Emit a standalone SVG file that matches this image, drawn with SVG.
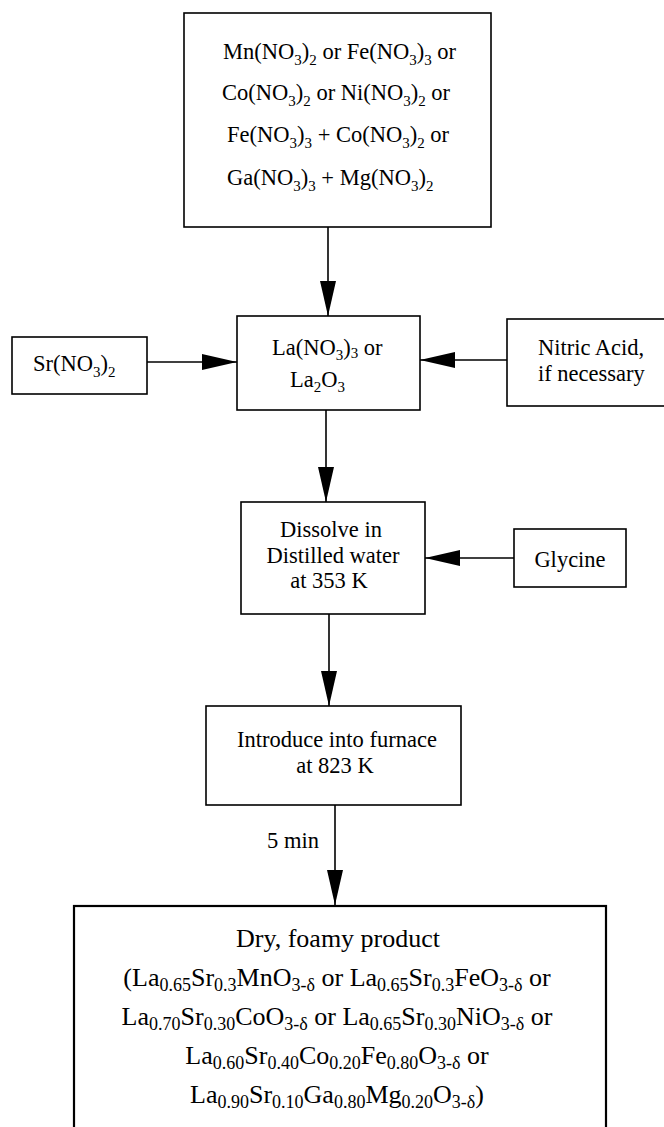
<svg xmlns="http://www.w3.org/2000/svg" width="664" height="1127" viewBox="0 0 664 1127">
<style>
  .box { fill: #fff; stroke: #000; stroke-width: 1.6; }
  .thick { stroke-width: 2.2; }
  .t { font-family: "Liberation Serif", "Times New Roman", serif; font-size: 22.5px; fill: #000; }
  .tb { font-family: "Liberation Serif", "Times New Roman", serif; font-size: 26px; fill: #000; }
  .s { font-size: 15px; }
  .sb { font-size: 18px; }
  .edge { stroke: #000; stroke-width: 1.6; fill: none; marker-end: url(#ah); }
</style>
<defs>
  <marker id="ah" markerUnits="userSpaceOnUse" markerWidth="36" markerHeight="17" refX="35" refY="8" orient="auto">
    <path d="M0,0 L35,8 L0,16 z" fill="#000"/>
  </marker>
</defs>
<rect width="664" height="1127" fill="#fff"/>

<g id="connectors">
  <line class="edge" x1="328" y1="227" x2="328" y2="316"/>
  <line class="edge" x1="147" y1="362" x2="237" y2="362"/>
  <line class="edge" x1="507" y1="360" x2="420" y2="360"/>
  <line class="edge" x1="326" y1="410" x2="326" y2="502"/>
  <line class="edge" x1="514" y1="558" x2="425" y2="558"/>
  <line class="edge" x1="329" y1="614" x2="329" y2="706"/>
  <line class="edge" x1="335" y1="805" x2="335" y2="905"/>
  <text class="t" x="267" y="848">5 min</text>
</g>

<g id="nitrates">
  <rect class="box" x="184" y="13" width="307" height="214"/>
  <text class="t" x="223" y="59">Mn(NO<tspan class="s" dy="6">3</tspan><tspan dy="-6">)</tspan><tspan class="s" dy="6">2</tspan><tspan dy="-6"> or Fe(NO</tspan><tspan class="s" dy="6">3</tspan><tspan dy="-6">)</tspan><tspan class="s" dy="6">3</tspan><tspan dy="-6"> or</tspan></text>
  <text class="t" x="222" y="100">Co(NO<tspan class="s" dy="6">3</tspan><tspan dy="-6">)</tspan><tspan class="s" dy="6">2</tspan><tspan dy="-6"> or Ni(NO</tspan><tspan class="s" dy="6">3</tspan><tspan dy="-6">)</tspan><tspan class="s" dy="6">2</tspan><tspan dy="-6"> or</tspan></text>
  <text class="t" x="227" y="142">Fe(NO<tspan class="s" dy="6">3</tspan><tspan dy="-6">)</tspan><tspan class="s" dy="6">3</tspan><tspan dy="-6"> + Co(NO</tspan><tspan class="s" dy="6">3</tspan><tspan dy="-6">)</tspan><tspan class="s" dy="6">2</tspan><tspan dy="-6"> or</tspan></text>
  <text class="t" x="227" y="185">Ga(NO<tspan class="s" dy="6">3</tspan><tspan dy="-6">)</tspan><tspan class="s" dy="6">3</tspan><tspan dy="-6"> + Mg(NO</tspan><tspan class="s" dy="6">3</tspan><tspan dy="-6">)</tspan><tspan class="s" dy="6">2</tspan></text>
</g>

<g id="sr">
  <rect class="box" x="12" y="337" width="135" height="57"/>
  <text class="t" x="33" y="371">Sr(NO<tspan class="s" dy="6">3</tspan><tspan dy="-6">)</tspan><tspan class="s" dy="6">2</tspan></text>
</g>

<g id="la">
  <rect class="box" x="237" y="316" width="183" height="94"/>
  <text class="t" x="272" y="355">La(NO<tspan class="s" dy="5">3</tspan><tspan dy="-5">)</tspan><tspan class="s" dy="3">3</tspan><tspan dy="-3"> or</tspan></text>
  <text class="t" x="290" y="387">La<tspan class="s" dy="5">2</tspan><tspan dy="-5">O</tspan><tspan class="s" dy="5">3</tspan></text>
</g>

<g id="nitric">
  <rect class="box" x="507" y="319" width="170" height="87"/>
  <text class="t" x="538" y="355">Nitric Acid,</text>
  <text class="t" x="538" y="381">if necessary</text>
</g>

<g id="dissolve">
  <rect class="box" x="241" y="502" width="184" height="112"/>
  <text class="t" x="331" y="537" text-anchor="middle">Dissolve in</text>
  <text class="t" x="333" y="563" text-anchor="middle">Distilled water</text>
  <text class="t" x="329" y="588" text-anchor="middle">at 353 K</text>
</g>

<g id="glycine">
  <rect class="box" x="514" y="529" width="112" height="58"/>
  <text class="t" x="570" y="567" text-anchor="middle">Glycine</text>
</g>

<g id="furnace">
  <rect class="box" x="206" y="706" width="255" height="99"/>
  <text class="t" x="337" y="747" text-anchor="middle">Introduce into furnace</text>
  <text class="t" x="335" y="773" text-anchor="middle">at 823 K</text>
</g>

<g id="product">
  <rect class="box thick" x="74" y="906" width="532" height="240"/>
  <text class="tb" x="338" y="947" text-anchor="middle">Dry, foamy product</text>
  <text class="tb" x="337" y="986" text-anchor="middle">(La<tspan class="sb" dy="5">0.65</tspan><tspan dy="-5">Sr</tspan><tspan class="sb" dy="5">0.3</tspan><tspan dy="-5">MnO</tspan><tspan class="sb" dy="5">3-δ</tspan><tspan dy="-5"> or La</tspan><tspan class="sb" dy="5">0.65</tspan><tspan dy="-5">Sr</tspan><tspan class="sb" dy="5">0.3</tspan><tspan dy="-5">FeO</tspan><tspan class="sb" dy="5">3-δ</tspan><tspan dy="-5"> or</tspan></text>
  <text class="tb" x="337" y="1025" text-anchor="middle">La<tspan class="sb" dy="5">0.70</tspan><tspan dy="-5">Sr</tspan><tspan class="sb" dy="5">0.30</tspan><tspan dy="-5">CoO</tspan><tspan class="sb" dy="5">3-δ</tspan><tspan dy="-5"> or La</tspan><tspan class="sb" dy="5">0.65</tspan><tspan dy="-5">Sr</tspan><tspan class="sb" dy="5">0.30</tspan><tspan dy="-5">NiO</tspan><tspan class="sb" dy="5">3-δ</tspan><tspan dy="-5"> or</tspan></text>
  <text class="tb" x="337" y="1064" text-anchor="middle">La<tspan class="sb" dy="5">0.60</tspan><tspan dy="-5">Sr</tspan><tspan class="sb" dy="5">0.40</tspan><tspan dy="-5">Co</tspan><tspan class="sb" dy="5">0.20</tspan><tspan dy="-5">Fe</tspan><tspan class="sb" dy="5">0.80</tspan><tspan dy="-5">O</tspan><tspan class="sb" dy="5">3-δ</tspan><tspan dy="-5"> or</tspan></text>
  <text class="tb" x="337" y="1103" text-anchor="middle">La<tspan class="sb" dy="5">0.90</tspan><tspan dy="-5">Sr</tspan><tspan class="sb" dy="5">0.10</tspan><tspan dy="-5">Ga</tspan><tspan class="sb" dy="5">0.80</tspan><tspan dy="-5">Mg</tspan><tspan class="sb" dy="5">0.20</tspan><tspan dy="-5">O</tspan><tspan class="sb" dy="5">3-δ</tspan><tspan dy="-5">)</tspan></text>
</g>
</svg>
